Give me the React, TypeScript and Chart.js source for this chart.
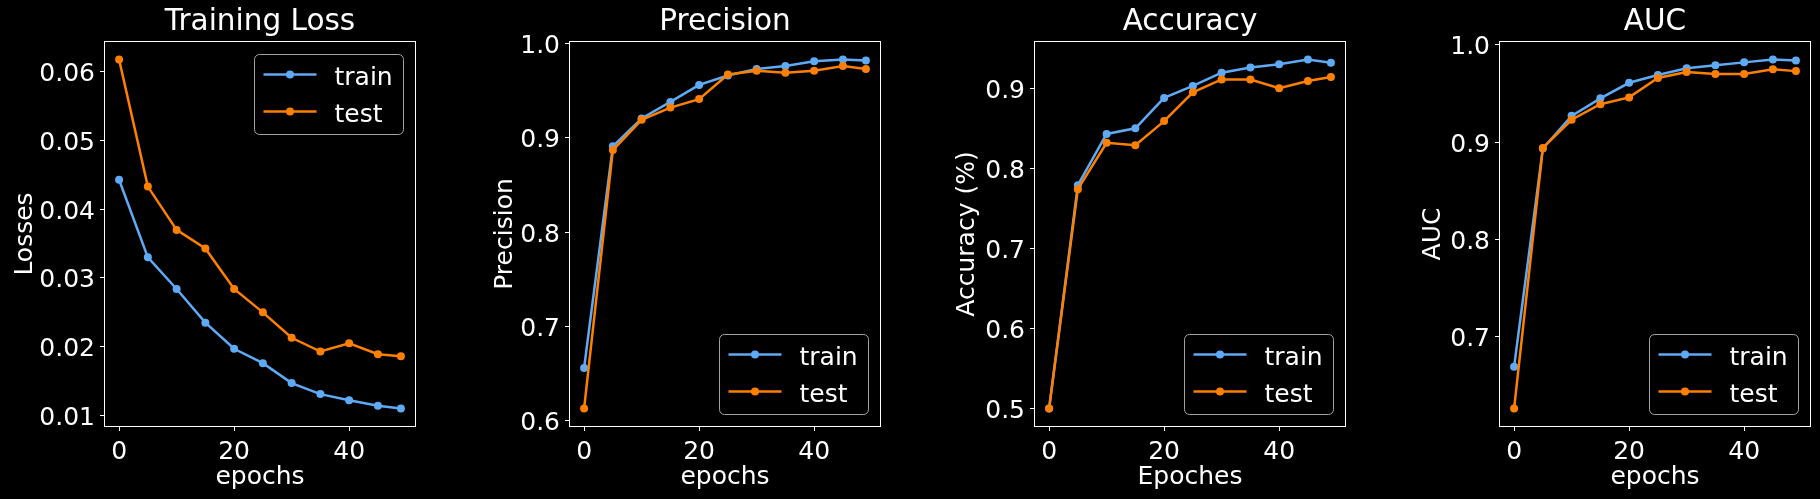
import React, { useEffect, useRef } from "react";
import { Chart, registerables } from "chart.js";

Chart.register(...registerables);

// Epoch index of every logged evaluation
const epochs = [0, 5, 10, 15, 20, 25, 30, 35, 40, 45, 49];

// Training loss
const lossTrain = [0.0443, 0.033, 0.0284, 0.0235, 0.0197, 0.0176, 0.0147, 0.0131, 0.0122, 0.0114, 0.011];
const lossTest = [0.0618, 0.0433, 0.037, 0.0343, 0.0284, 0.025, 0.0213, 0.0193, 0.0205, 0.0189, 0.0186];

// Precision
const precisionTrain = [0.656, 0.891, 0.9205, 0.938, 0.956, 0.966, 0.973, 0.976, 0.981, 0.983, 0.982];
const precisionTest = [0.613, 0.887, 0.919, 0.932, 0.941, 0.967, 0.971, 0.969, 0.971, 0.976, 0.973];

// Accuracy
const accuracyTrain = [0.5, 0.779, 0.843, 0.85, 0.888, 0.903, 0.9195, 0.926, 0.93, 0.936, 0.932];
const accuracyTest = [0.5, 0.774, 0.832, 0.829, 0.859, 0.895, 0.911, 0.911, 0.9, 0.909, 0.914];

// AUC
const aucTrain = [0.669, 0.8935, 0.927, 0.945, 0.961, 0.969, 0.976, 0.979, 0.982, 0.985, 0.984];
const aucTest = [0.626, 0.894, 0.923, 0.939, 0.946, 0.966, 0.972, 0.97, 0.97, 0.975, 0.973];

// Tick values
const epochTicks = [0, 20, 40];
const lossTicks = [0.01, 0.02, 0.03, 0.04, 0.05, 0.06];
const precisionTicks = [0.6, 0.7, 0.8, 0.9, 1.0];
const accuracyTicks = [0.5, 0.6, 0.7, 0.8, 0.9];
const aucTicks = [0.7, 0.8, 0.9, 1.0];

const seriesNames = ["train", "test"];

const TRAIN_COLOR = "#5eaaf4";
const TEST_COLOR = "#ff8000";
const FONT = "'DejaVu Sans', sans-serif";
const TEXT_SIZE = 25;
const TITLE_SIZE = 29.5;

type Panel = {
  title: string;
  yLabel: string;
  xLabel: string;
  train: number[];
  test: number[];
  yTicks: number[];
  decimals: number;
  legendCorner: "upper" | "lower";
  yTitlePad: number;
};

const panels: Panel[] = [
  { title: "Training Loss", yLabel: "Losses", xLabel: "epochs", train: lossTrain, test: lossTest, yTicks: lossTicks, decimals: 2, legendCorner: "upper", yTitlePad: 10.8 },
  { title: "Precision", yLabel: "Precision", xLabel: "epochs", train: precisionTrain, test: precisionTest, yTicks: precisionTicks, decimals: 1, legendCorner: "lower", yTitlePad: 25.2 },
  { title: "Accuracy", yLabel: "Accuracy (%)", xLabel: "Epoches", train: accuracyTrain, test: accuracyTest, yTicks: accuracyTicks, decimals: 1, legendCorner: "lower", yTitlePad: 22.7 },
  { title: "AUC", yLabel: "AUC", xLabel: "epochs", train: aucTrain, test: aucTest, yTicks: aucTicks, decimals: 1, legendCorner: "lower", yTitlePad: 23.5 },
];

const CANVAS_W = 425;
const CANVAS_H = 499;
const PANEL_STEP = 465;

// Axis limits with a 5% margin around the data
function paddedRange(values: number[]): [number, number] {
  const lo = Math.min(...values);
  const hi = Math.max(...values);
  const m = (hi - lo) * 0.05;
  return [lo - m, hi + m];
}

// Frame around the plotting area
const framePlugin = {
  id: "frame",
  afterDatasetsDraw(chart: any) {
    const { ctx, chartArea } = chart;
    const l = Math.round(chartArea.left) - 0.5;
    const t = Math.round(chartArea.top) - 0.5;
    const r = Math.round(chartArea.right) + 0.5;
    const b = Math.round(chartArea.bottom) + 0.5;
    ctx.save();
    ctx.strokeStyle = "#ffffff";
    ctx.lineWidth = 1;
    ctx.strokeRect(l, t, r - l, b - t);
    ctx.restore();
  },
};

// Boxed legend placed inside the plotting area
const cornerLegendPlugin = {
  id: "cornerLegend",
  afterDraw(chart: any, _args: any, opts: any) {
    const { ctx, chartArea } = chart;
    const w = 149;
    const h = 80;
    const gap = 12;
    const x = Math.round(chartArea.right - gap - w) + 0.5;
    const y = opts.corner === "upper"
      ? Math.round(chartArea.top + gap) + 0.5
      : Math.round(chartArea.bottom - gap - h) + 0.5;
    ctx.save();
    ctx.beginPath();
    ctx.roundRect(x, y, w, h, 5);
    ctx.fillStyle = "rgba(0,0,0,0.8)";
    ctx.fill();
    ctx.strokeStyle = "#a3a3a3";
    ctx.lineWidth = 1;
    ctx.stroke();
    chart.data.datasets.forEach((ds: any, i: number) => {
      const ry = y + 20 + i * 37;
      ctx.strokeStyle = ds.borderColor;
      ctx.lineWidth = ds.borderWidth;
      ctx.beginPath();
      ctx.moveTo(x + 9, ry);
      ctx.lineTo(x + 62, ry);
      ctx.stroke();
      ctx.fillStyle = ds.borderColor;
      ctx.beginPath();
      ctx.arc(x + 35.5, ry, ds.pointRadius, 0, Math.PI * 2);
      ctx.fill();
      ctx.fillStyle = "#ffffff";
      ctx.font = `${TEXT_SIZE}px ${FONT}`;
      ctx.textAlign = "left";
      ctx.textBaseline = "alphabetic";
      ctx.fillText(ds.label, x + 80, ry + 10);
    });
    ctx.restore();
  },
};

function PanelChart({ panel, index }: { panel: Panel; index: number }) {
  const ref = useRef<HTMLCanvasElement>(null);

  useEffect(() => {
    if (!ref.current) return;
    const [yMin, yMax] = paddedRange([...panel.train, ...panel.test]);
    const [xMin, xMax] = paddedRange(epochs);
    const series = [panel.train, panel.test];
    const colors = [TRAIN_COLOR, TEST_COLOR];

    const chart = new Chart(ref.current, {
      type: "line",
      data: {
        datasets: series.map((vals, i) => ({
          label: seriesNames[i],
          data: epochs.map((e, k) => ({ x: e, y: vals[k] })),
          borderColor: colors[i],
          backgroundColor: colors[i],
          pointBackgroundColor: colors[i],
          pointBorderWidth: 0,
          pointRadius: 4,
          borderWidth: 2.5,
          tension: 0,
          fill: false,
          order: i === 0 ? 1 : 0,
        })),
      },
      options: {
        animation: false,
        responsive: false,
        devicePixelRatio: 1,
        layout: { padding: { left: 0, right: 10, top: 0, bottom: 0 } },
        plugins: {
          legend: { display: false },
          tooltip: { enabled: false },
          title: {
            display: true,
            text: panel.title,
            color: "#ffffff",
            fullSize: false,
            font: { family: FONT, size: TITLE_SIZE, weight: "normal", lineHeight: 1 },
            padding: { top: 7.5, bottom: 5 },
          },
          cornerLegend: { corner: panel.legendCorner },
        } as any,
        scales: {
          x: {
            type: "linear",
            min: xMin,
            max: xMax,
            border: { display: false },
            grid: {
              display: true,
              drawOnChartArea: false,
              drawTicks: true,
              tickLength: 5,
              tickColor: "#ffffff",
              tickWidth: 1,
            },
            ticks: {
              color: "#ffffff",
              font: { family: FONT, size: TEXT_SIZE },
              padding: 6,
              maxRotation: 0,
              callback: (v: any) => String(v),
            },
            afterBuildTicks: (scale: any) => {
              scale.ticks = epochTicks.map((v) => ({ value: v }));
            },
            afterFit: (scale: any) => {
              scale.height = 73;
            },
            title: {
              display: true,
              text: panel.xLabel,
              color: "#ffffff",
              font: { family: FONT, size: TEXT_SIZE, lineHeight: 1.2 },
              padding: { top: 0, bottom: 6.5 },
            },
          },
          y: {
            type: "linear",
            min: yMin,
            max: yMax,
            border: { display: false },
            grid: {
              display: true,
              drawOnChartArea: false,
              drawTicks: true,
              tickLength: 5,
              tickColor: "#ffffff",
              tickWidth: 1,
            },
            ticks: {
              color: "#ffffff",
              font: { family: FONT, size: TEXT_SIZE },
              padding: 5,
              labelOffset: 3,
              callback: (v: any) => Number(v).toFixed(panel.decimals),
            },
            afterBuildTicks: (scale: any) => {
              scale.ticks = panel.yTicks.map((v) => ({ value: v }));
            },
            afterFit: (scale: any) => {
              scale.width = 105;
            },
            title: {
              display: true,
              text: panel.yLabel,
              color: "#ffffff",
              font: { family: FONT, size: TEXT_SIZE, lineHeight: 1.2 },
              padding: { top: panel.yTitlePad, bottom: 0 },
            },
          },
        },
      } as any,
      plugins: [framePlugin, cornerLegendPlugin],
    });
    return () => chart.destroy();
  }, [panel]);

  return (
    <canvas
      ref={ref}
      width={CANVAS_W}
      height={CANVAS_H}
      style={{ position: "absolute", left: index * PANEL_STEP, top: 0, width: CANVAS_W, height: CANVAS_H }}
    />
  );
}

export default function App() {
  useEffect(() => {
    document.body.style.margin = "0";
    document.body.style.background = "#000";
  }, []);
  return (
    <div style={{ position: "absolute", left: 0, top: 0, width: 1820, height: 499, background: "#000", overflow: "hidden" }}>
      {panels.map((p, i) => (
        <PanelChart key={p.title} panel={p} index={i} />
      ))}
    </div>
  );
}
